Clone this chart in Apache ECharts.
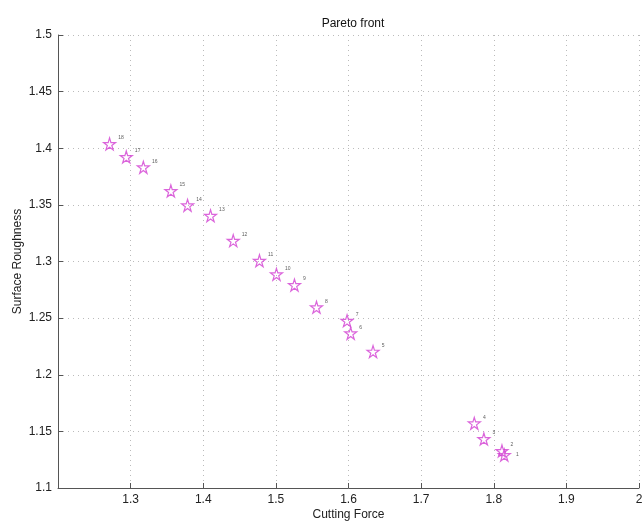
<!DOCTYPE html>
<html><head><meta charset="utf-8">
<script src="https://cdn.jsdelivr.net/npm/echarts@6/dist/echarts.min.js"></script>
<style>html,body{margin:0;padding:0;background:#fff}#c{width:642px;height:522px}</style>
</head><body><div id="c"></div>
<script>
var cuttingForce = [1.8145, 1.8113, 1.7864, 1.7732, 1.6338, 1.603, 1.598, 1.5559, 1.5256, 1.5008, 1.4774, 1.4413, 1.41, 1.3784, 1.3554, 1.3175, 1.294, 1.271];
var surfaceRoughness = [1.1291, 1.1327, 1.1433, 1.1571, 1.2204, 1.2366, 1.2477, 1.2596, 1.2792, 1.2887, 1.3007, 1.3184, 1.3404, 1.3496, 1.3623, 1.3832, 1.3923, 1.4038];
var pointLabels = ['1','2','3','4','5','6','7','8','9','10','11','12','13','14','15','16','17','18'];
var xTicks = ['1.3','1.4','1.5','1.6','1.7','1.8','1.9','2'];
var yTicks = ['1.1','1.15','1.2','1.25','1.3','1.35','1.4','1.45','1.5'];

var starPath = 'path://M50,0 L61,35 L98,35 L68,57 L79,91 L50,70 L21,91 L32,57 L2,35 L39,35 Z';
var data = cuttingForce.map(function (x, i) {
  var d = { value: [x, surfaceRoughness[i]], name: pointLabels[i] };
  if (i === 0) d.label = { offset: [0, 0] };
  return d;
});
var axisFont = { fontFamily: 'Liberation Sans, Arial, sans-serif', fontSize: 12, color: '#222' };
var chart = echarts.init(document.getElementById('c'));
chart.setOption({
  animation: false,
  backgroundColor: '#fff',
  title: { text: 'Pareto front', left: 348, top: 13, textAlign: 'center',
    textStyle: { fontFamily: 'Liberation Sans, Arial, sans-serif', fontSize: 12, fontWeight: 'normal', color: '#111' } },
  grid: { left: 58, right: 3, top: 35, bottom: 34, containLabel: false, outerBoundsMode: 'none' },
  xAxis: {
    type: 'value', min: 1.2, max: 2, interval: 0.1,
    name: 'Cutting Force', nameLocation: 'middle', nameGap: 21, nameMoveOverlap: false,
    nameTextStyle: axisFont,
    axisLine: { show: true, onZero: false, lineStyle: { color: '#555', width: 1 } },
    axisTick: { show: true, inside: true, length: 5, lineStyle: { color: '#555' } },
    axisLabel: Object.assign({ margin: 6, showMinLabel: false, formatter: function (v) {
      var s = String(Math.round(v * 10) / 10); return xTicks.indexOf(s) >= 0 ? s : ''; } }, axisFont),
    splitLine: { show: true, lineStyle: { color: '#bbb', type: [1, 4], width: 1 } }
  },
  yAxis: {
    type: 'value', min: 1.1, max: 1.5, interval: 0.05,
    name: 'Surface Roughness', nameLocation: 'middle', nameGap: 34, nameMoveOverlap: false,
    nameTextStyle: axisFont,
    axisLine: { show: true, onZero: false, lineStyle: { color: '#555', width: 1 } },
    axisTick: { show: true, inside: true, length: 5, lineStyle: { color: '#555' } },
    axisLabel: Object.assign({ margin: 6, formatter: function (v) {
      var s = String(Math.round(v * 100) / 100); return yTicks.indexOf(s) >= 0 ? s : ''; } }, axisFont),
    splitLine: { show: true, lineStyle: { color: '#bbb', type: [1, 4], width: 1 } }
  },
  series: [{
    type: 'scatter',
    symbol: starPath,
    symbolSize: 12,
    itemStyle: { color: 'rgba(0,0,0,0)', borderColor: '#d23fd2', borderWidth: 1.2 },
    label: {
      show: true, position: 'right', offset: [-3, -6],
      formatter: function (p) { return p.name; },
      fontSize: 5, color: '#333', fontFamily: 'Liberation Sans, Arial, sans-serif'
    },
    data: data
  }]
});
</script></body></html>
